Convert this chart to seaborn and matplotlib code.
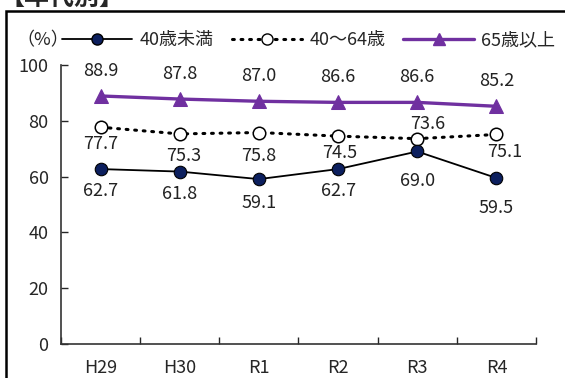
import matplotlib
matplotlib.use("Agg")
import numpy as np
import pandas as pd
import seaborn as sns
import matplotlib.pyplot as plt
from matplotlib.lines import Line2D
from matplotlib.patches import Rectangle

# Data
years = ["H29", "H30", "R1", "R2", "R3", "R4"]
under40 = [62.7, 61.8, 59.1, 62.7, 69.0, 59.5]
age40_64 = [77.7, 75.3, 75.8, 74.5, 73.6, 75.1]
over65 = [88.9, 87.8, 87.0, 86.6, 86.6, 85.2]
series_names = ["40歳未満", "40～64歳", "65歳以上"]

sns.set_style("white")
plt.rcParams['font.family'] = ['Noto Sans CJK JP', 'DejaVu Sans']

fig = plt.figure(figsize=(5.65, 3.78), dpi=100)
ax = fig.add_axes([61 / 565, 1 - 344 / 378, 475 / 565, 279 / 378])

x = np.arange(len(years))
df = pd.DataFrame({"x": x, "u40": under40, "m": age40_64, "o65": over65})

navy = "#0c1f5e"
purple = "#7030a0"

sns.lineplot(data=df, x="x", y="o65", ax=ax, color=purple, lw=2.4,
             marker="^", markersize=10, markeredgecolor=purple)
sns.lineplot(data=df, x="x", y="m", ax=ax, color="black", lw=2.2,
             linestyle=(0, (0.6, 2.2)), dash_capstyle="round",
             marker="o", markersize=9, markerfacecolor="white",
             markeredgecolor="black", markeredgewidth=1.1)
sns.lineplot(data=df, x="x", y="u40", ax=ax, color="black", lw=1.3,
             marker="o", markersize=9, markerfacecolor=navy,
             markeredgecolor="black", markeredgewidth=0.8)

# value labels (offsets in pixels)
lab_kw = dict(textcoords="offset pixels", ha="center", va="center",
              fontsize=13, color="#222222")
for i, v in enumerate(over65):
    ax.annotate(f"{v:.1f}", (i, v), xytext=(0, 25), **lab_kw)
off_m = [(0, 17), (4, 22), (0, 23), (2, 17), (10, -15), (8, 18)]
for i, v in enumerate(age40_64):
    dx, dy = off_m[i]
    ax.annotate(f"{v:.1f}", (i, v), xytext=(dx, -dy), **lab_kw)
off_u = [22, 22, 24, 22, 30, 30]
for i, v in enumerate(under40):
    ax.annotate(f"{v:.1f}", (i, v), xytext=(0, -off_u[i]), **lab_kw)

ax.set_xlim(-0.5, len(years) - 0.5)
ax.set_ylim(0, 100)
ax.set_yticks([0, 20, 40, 60, 80, 100])
ax.set_xticks(x)
ax.set_xticklabels(years)
ax.set_xticks(np.arange(-0.5, len(years), 1), minor=True)
ax.tick_params(axis="x", which="major", length=0, pad=11, labelsize=13)
ax.tick_params(axis="x", which="minor", direction="in", length=5,
               width=1, bottom=True)
ax.tick_params(axis="y", direction="in", length=5, width=1, left=True,
               pad=9, labelsize=13)
ax.set_xlabel("")
ax.set_ylabel("")
for s in ["top", "right"]:
    ax.spines[s].set_visible(False)
for s in ["left", "bottom"]:
    ax.spines[s].set_color("#333333")
    ax.spines[s].set_linewidth(1.2)

# legend
handles = [
    Line2D([], [], color="black", lw=1.3, marker="o", markersize=8,
           markerfacecolor=navy, markeredgecolor="black"),
    Line2D([], [], color="black", lw=2.2, linestyle=(0, (0.6, 2.2)),
           dash_capstyle="round", marker="o", markersize=8,
           markerfacecolor="white", markeredgecolor="black"),
    Line2D([], [], color=purple, lw=2.4, marker="^", markersize=8),
]
fig.legend(handles, series_names, loc="center left",
           bbox_to_anchor=(62 / 565, 1 - 40 / 378), ncol=3, frameon=False,
           fontsize=13, handlelength=3.9, columnspacing=1.0,
           handletextpad=0.4, borderaxespad=0, borderpad=0)
fig.text(16 / 565, 1 - 40 / 378, "（%）", fontsize=13, va="center", ha="left")

# outer frame and clipped heading (cut off at the top edge, as in the source)
fig.patches.append(Rectangle((6 / 565, -0.1), 1.2, 1 - 11 / 378 + 0.1,
                             transform=fig.transFigure, fill=False,
                             edgecolor="black", lw=1.8))
fig.text(0, 1 + 14 / 378, "【年代別】", fontsize=18, fontweight="bold",
         va="top", ha="left")

fig.savefig("out.png", dpi=100)
